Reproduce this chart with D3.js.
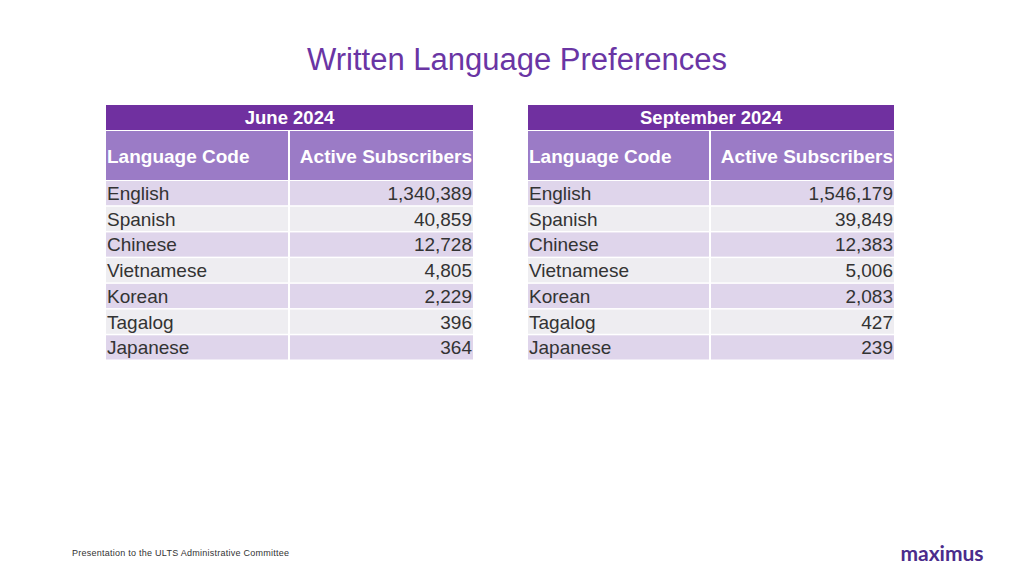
<!DOCTYPE html><html><head><meta charset="utf-8">
<script src="https://cdn.jsdelivr.net/npm/d3@7"></script>
<style>body{margin:0;background:#fff}svg{font-family:"Liberation Sans",Arial,sans-serif}</style></head><body>
<svg id="c" width="1024" height="576"></svg>
<script>
const languages=["English","Spanish","Chinese","Vietnamese","Korean","Tagalog","Japanese"];
const june=[1340389,40859,12728,4805,2229,396,364];
const sept=[1546179,39849,12383,5006,2083,427,239];
const periods=["June 2024","September 2024"];
const headers=["Language Code","Active Subscribers"];
const svg=d3.select("#c");
svg.append("text").attr("x",517).attr("y",70).attr("text-anchor","middle").attr("font-size",31).attr("fill","#6a35a4").text("Written Language Preferences");
const fmt=d3.format(",");
function table(x0,x1,xm,title,vals){
  const g=svg.append("g");
  g.append("rect").attr("x",x0).attr("y",105).attr("width",x1-x0).attr("height",25).attr("fill","#7030a0");
  g.append("text").attr("x",(x0+x1)/2).attr("y",124).attr("text-anchor","middle").attr("fill","#fff").attr("font-weight","bold").attr("font-size",18.5).text(title);
  g.append("rect").attr("x",x0).attr("y",131).attr("width",xm-x0-1).attr("height",49).attr("fill","#9b7bc6");
  g.append("rect").attr("x",xm+1).attr("y",131).attr("width",x1-xm-1).attr("height",49).attr("fill","#9b7bc6");
  g.append("text").attr("x",x0+1).attr("y",163).attr("fill","#fff").attr("font-weight","bold").attr("font-size",19).text(headers[0]);
  g.append("text").attr("x",x1-1).attr("y",163).attr("text-anchor","end").attr("fill","#fff").attr("font-weight","bold").attr("font-size",19).text(headers[1]);
  const y=d3.scaleBand().domain(languages).range([181,361]);
  languages.forEach((l,i)=>{
    const f=i%2?"#eeedf1":"#dfd5eb";
    g.append("rect").attr("x",x0).attr("y",y(l)).attr("width",xm-x0-1).attr("height",y.bandwidth()-1.5).attr("fill",f);
    g.append("rect").attr("x",xm+1).attr("y",y(l)).attr("width",x1-xm-1).attr("height",y.bandwidth()-1.5).attr("fill",f);
    g.append("text").attr("x",x0+1).attr("y",y(l)+19).attr("font-size",19).attr("fill","#333").text(l);
    g.append("text").attr("x",x1-1).attr("y",y(l)+19).attr("text-anchor","end").attr("font-size",19).attr("fill","#333").text(fmt(vals[i]));
  });
}
table(106,473,289,periods[0],june);
table(528,894,710,periods[1],sept);
svg.append("text").attr("x",72).attr("y",556).attr("font-size",9).attr("letter-spacing",0.25).attr("fill","#333").text("Presentation to the ULTS Administrative Committee");
svg.append("text").attr("x",942).attr("y",561).attr("text-anchor","middle").attr("font-size",21).attr("font-weight","bold").attr("fill","#4b2c8c").attr("font-family","Lato").text("maximus");
</script></body></html>
